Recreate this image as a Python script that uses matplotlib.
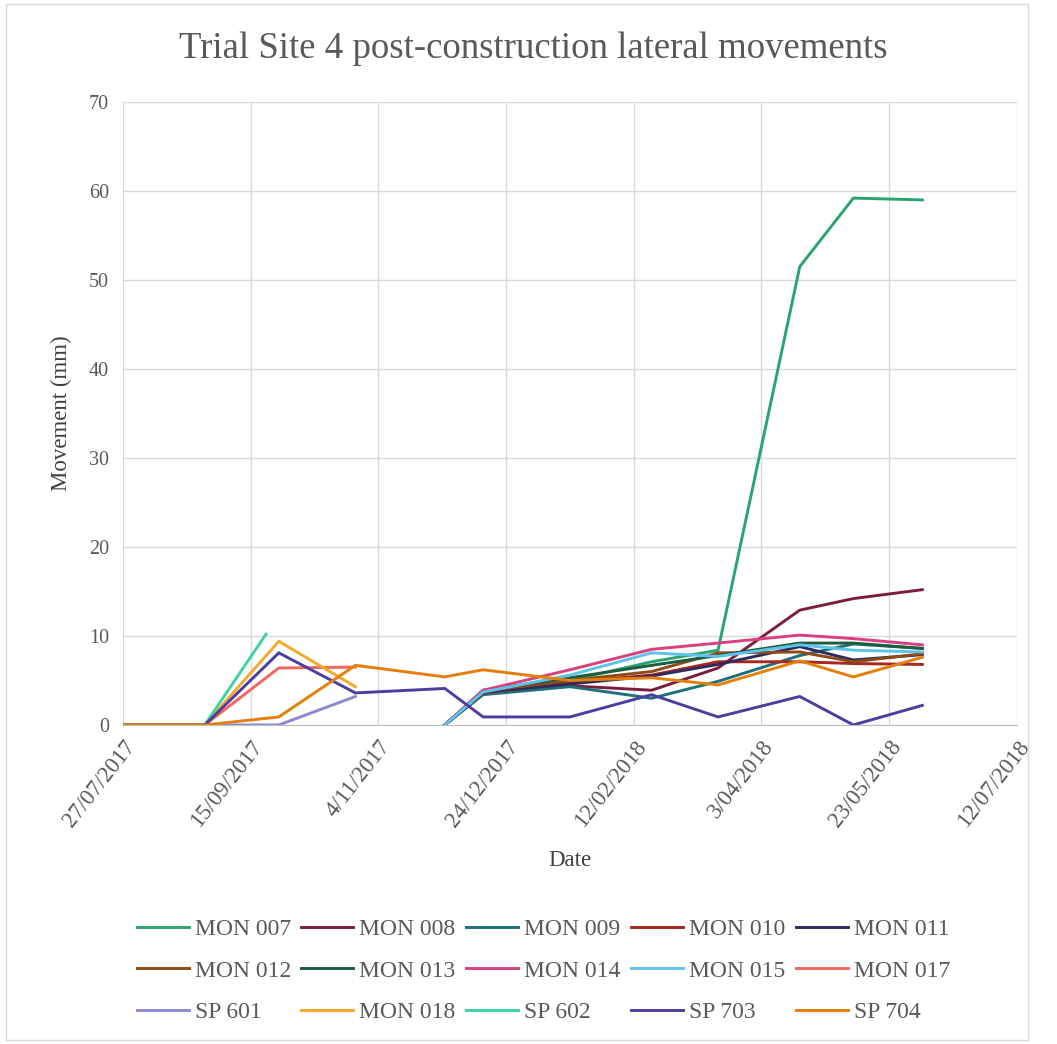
import numpy as np
import matplotlib
matplotlib.use("Agg")
import matplotlib.pyplot as plt
from matplotlib.patches import Rectangle
import datetime as dt

plt.rcParams['font.family'] = ['Liberation Serif', 'DejaVu Serif']

nan = np.nan
dates = ['2017-07-27', '2017-08-28', '2017-09-21', '2017-09-26', '2017-10-26',
         '2017-11-30', '2017-12-15', '2018-01-18', '2018-02-19', '2018-03-17',
         '2018-04-18', '2018-05-09', '2018-06-05']

mon007 = [nan, nan, nan, nan, nan, 0, 3.7, 5.0, 7.1, 8.4, 51.5, 59.2, 59.0]
mon008 = [nan, nan, nan, nan, nan, 0, 3.6, 4.4, 3.9, 6.4, 12.9, 14.2, 15.2]
mon009 = [nan, nan, nan, nan, nan, 0, 3.4, 4.3, 3.0, 4.9, 7.8, 9.1, 8.6]
mon010 = [nan, nan, nan, nan, nan, 0, 3.6, 4.8, 5.6, 7.1, 7.1, 6.9, 6.8]
mon011 = [nan, nan, nan, nan, nan, 0, 3.7, 4.6, 5.5, 6.8, 8.8, 7.3, 7.9]
mon012 = [nan, nan, nan, nan, nan, 0, 3.8, 5.0, 6.0, 8.1, 8.2, 7.1, 8.0]
mon013 = [nan, nan, nan, nan, nan, 0, 3.9, 5.3, 6.7, 7.8, 9.2, 9.2, 8.6]
mon014 = [nan, nan, nan, nan, nan, 0, 3.9, 6.2, 8.5, 9.2, 10.1, 9.7, 9.0]
mon015 = [nan, nan, nan, nan, nan, 0, 3.7, 5.6, 8.1, 7.7, 9.0, 8.4, 8.2]
mon017 = [0, 0, nan, 6.4, 6.5, nan, nan, nan, nan, nan, nan, nan, nan]
sp601 = [0, 0, nan, 0, 3.2, nan, nan, nan, nan, nan, nan, nan, nan]
mon018 = [0, 0, nan, 9.4, 4.3, nan, nan, nan, nan, nan, nan, nan, nan]
sp602 = [0, 0, 10.2, nan, nan, nan, nan, nan, nan, nan, nan, nan, nan]
sp703 = [0, 0, nan, 8.1, 3.6, 4.1, 0.9, 0.9, 3.4, 0.9, 3.2, 0.0, 2.2]
sp704 = [0, 0, nan, 0.9, 6.7, 5.4, 6.2, 5.0, 5.3, 4.5, 7.2, 5.4, 7.6]

labels = ['MON 007', 'MON 008', 'MON 009', 'MON 010', 'MON 011',
          'MON 012', 'MON 013', 'MON 014', 'MON 015', 'MON 017',
          'SP 601', 'MON 018', 'SP 602', 'SP 703', 'SP 704']
series = [mon007, mon008, mon009, mon010, mon011,
          mon012, mon013, mon014, mon015, mon017,
          sp601, mon018, sp602, sp703, sp704]
colors = ['#2aa46e', '#7a1e3e', '#1f7078', '#a8281e', '#2f2a5e',
          '#8e4b15', '#1d5c3f', '#d9407f', '#5cc4ea', '#f0675c',
          '#8c88d2', '#f5a82a', '#3fd39e', '#4a3fa0', '#e47f0c']

x = np.array([np.datetime64(d) for d in dates]).astype('datetime64[D]').astype(object)

fig = plt.figure(figsize=(10.57, 10.44), dpi=100)
ax = fig.add_axes([0.1164, 0.3056, 0.962 - 0.1164, 0.9023 - 0.3056])

handles = []
for lab, vals, c in zip(labels, series, colors):
    v = np.array(vals, dtype=float)
    m = ~np.isnan(v)
    xs = [x[i] for i in range(len(x)) if m[i]]
    h, = ax.plot(xs, v[m], color=c, lw=2.1, label=lab, solid_joinstyle='miter')
    handles.append(h)

start = dt.date(2017, 7, 27)
ticks = [start + dt.timedelta(days=50 * i) for i in range(8)]
ax.set_xlim(ticks[0], ticks[-1])
ax.set_xticks(ticks)
ax.set_xticklabels([f"{t.day}/{t.month:02d}/{t.year}" for t in ticks],
                   rotation=52, ha='right', va='top', rotation_mode='anchor',
                   fontsize=16.5, color='#595959')
ax.set_ylim(0, 70)
ax.set_yticks(range(0, 71, 10))
ax.tick_params(axis='y', labelsize=14.5, labelcolor='#595959', length=0, pad=10)
ax.tick_params(axis='x', length=0, pad=8)
ax.grid(True, color='#d9d9d9', lw=1)
ax.set_axisbelow(True)
for s in ['top', 'right', 'left']:
    ax.spines[s].set_visible(False)
ax.spines['bottom'].set_color('#bfbfbf')

ax.set_ylabel('Movement (mm)', fontsize=16.5, color='#404040', labelpad=12)
ax.set_xlabel('Date', fontsize=16.5, color='#404040', labelpad=14)
fig.text(0.505, 0.953, 'Trial Site 4 post-construction lateral movements',
         ha='center', va='center', fontsize=26.5, color='#595959')

order = []
for c in range(5):
    for r in range(3):
        order.append(r * 5 + c)
fig.legend([handles[i] for i in order], [labels[i] for i in order],
           loc='center', bbox_to_anchor=(0.514, 0.070), ncol=5, frameon=False,
           fontsize=17, handlelength=2.2, handletextpad=0.25,
           columnspacing=0.45, labelspacing=0.85, labelcolor='#595959')

fig.add_artist(Rectangle((6 / 1057, 4 / 1044), 1022 / 1057, 1036 / 1044,
                         transform=fig.transFigure, fill=False,
                         edgecolor='#d9d9d9', lw=1))

fig.savefig('out.png', dpi=100)
